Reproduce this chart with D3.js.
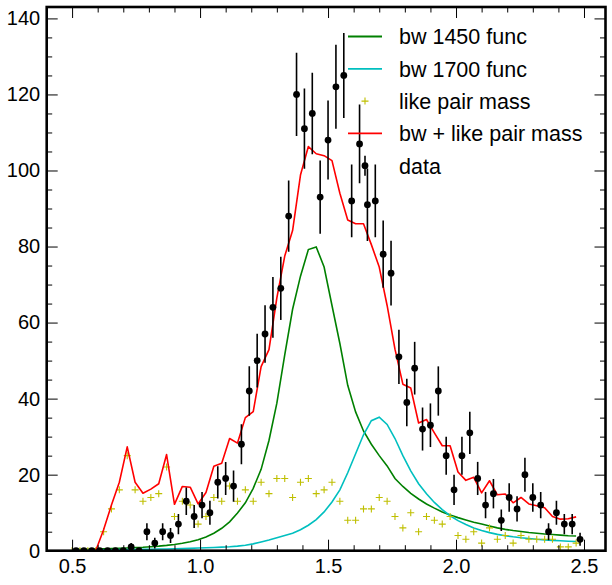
<!DOCTYPE html>
<html>
<head>
<meta charset="utf-8">
<script src="https://cdn.jsdelivr.net/npm/d3@7"></script>
<style>
  body { margin: 0; background: #fff; }
  svg text { font-family: "Liberation Sans", Arial, Helvetica, sans-serif; }
</style>
</head>
<body>
<div class="MassPlot"></div>
<script>
// bin edges of the mass histogram (65 bins from 0.5 to 2.5)
const massEdges = [0.5000, 0.5308, 0.5615, 0.5923, 0.6231, 0.6538, 0.6846, 0.7154, 0.7462, 0.7769,
  0.8077, 0.8385, 0.8692, 0.9000, 0.9308, 0.9615, 0.9923, 1.0231, 1.0538, 1.0846,
  1.1154, 1.1462, 1.1769, 1.2077, 1.2385, 1.2692, 1.3000, 1.3308, 1.3615, 1.3923,
  1.4231, 1.4538, 1.4846, 1.5154, 1.5462, 1.5769, 1.6077, 1.6385, 1.6692, 1.7000,
  1.7308, 1.7615, 1.7923, 1.8231, 1.8538, 1.8846, 1.9154, 1.9462, 1.9769, 2.0077,
  2.0385, 2.0692, 2.1000, 2.1308, 2.1615, 2.1923, 2.2231, 2.2538, 2.2846, 2.3154,
  2.3462, 2.3769, 2.4077, 2.4385, 2.4692, 2.5000];

// data counts per bin and their errors
const dataCounts = [0, 0, 0, 0, 0, 0, 0, 1, 0, 5, 2, 5, 4, 7, 13, 9, 12, 10, 18, 19,
  17, 28, 42, 50, 57, 64, 69, 88, 120, 111, 115, 93, 108, 122, 125, 92, 107, 91, 92, 78,
  73, 51, 39, 48, 32, 33, 42, 25, 16, 25, 31, 19, 12, 15, 8, 14, 11, 20, 14, 12,
  5, 10, 7, 7, 3];
const dataErrors = [0, 0, 0, 0, 0, 0, 0, 1, 0, 2.24, 1.41, 2.24, 2, 2.65, 3.61, 3, 3.46, 3.16, 4.24, 4.36,
  4.12, 5.29, 6.48, 7.07, 7.55, 8, 8.31, 9.38, 10.95, 10.54, 10.72, 9.64, 10.39, 11.05, 11.18, 9.59, 10.34, 9.54, 9.59, 8.83,
  8.54, 7.14, 6.24, 6.93, 5.66, 5.74, 6.48, 5, 4, 5, 5.57, 4.36, 3.46, 3.87, 2.83, 3.74, 3.32, 4.47, 3.74, 3.46,
  2.24, 3.16, 2.65, 2.65, 1.73];

// like pair mass (at bin lower edges)
const likePair = [0, 0, 0, 0, 5, 11, 16, 25, 16, 13, 14, 15, 22, 9, 13, 12, 7, 9, 14, 13,
  17, 13, 16, 13, 18, 15, 19, 19, 14, 18, 19, 15, 16, 18, 13, 8, 8, 11, 11, 14,
  13, 9, 6, 10, 5, 9, 8, 7, 9, 4, 3, 5, 2, 6, 3, 4, 2, 4, 3, 3,
  3, 3, 1, 1, 2];

// bw 1450 function
const bw1450 = [0.3, 0.35, 0.4, 0.45, 0.5, 0.55, 0.62, 0.7, 0.8, 0.9,
  1.05, 1.2, 1.4, 1.65, 1.95, 2.35, 2.9, 3.6, 4.6, 5.9,
  7.6, 9.9, 12.6, 16.4, 21.4, 29, 38.8, 51.5, 63.5, 72.2,
  79.2, 79.9, 74.6, 64.5, 54.5, 43.5, 36.5, 31.5, 28, 25,
  22.3, 19, 16.9, 15.1, 13.6, 12.3, 11.2, 10.2, 9.4, 8.7,
  8.1, 7.5, 7.0, 6.5, 6.0, 5.6, 5.3, 5.05, 4.8, 4.6,
  4.4, 4.25, 4.1, 3.95, 3.85];

// bw 1700 function
const bw1700 = [0.2, 0.21, 0.22, 0.23, 0.24, 0.25, 0.27, 0.29, 0.31, 0.34,
  0.4, 0.43, 0.46, 0.5, 0.55, 0.62, 0.7, 0.77, 0.85, 0.95,
  1.05, 1.2, 1.45, 1.8, 2.3, 2.8, 3.4, 4.0, 4.6, 5.5,
  6.7, 8.2, 10.2, 12.8, 16.0, 20.5, 25.5, 30.5, 34.2, 35.1,
  33.2, 29.5, 25.0, 21.0, 17.6, 15.0, 12.7, 10.8, 9.2, 7.9,
  6.9, 6.0, 5.3, 4.75, 4.3, 3.95, 3.65, 3.4, 3.2, 3.0,
  2.85, 2.72, 2.6, 2.5, 2.42];

// bw + like pair mass
const bwPlusLike = [0, 0, 0, 0, 5.5, 12, 18, 27.3, 18, 15.1, 16.2, 17.6, 25.3, 12.2, 16.9, 16.7, 12.3, 15.3, 22.2, 23,
  29.5, 28.3, 35, 36.6, 48.4, 52.9, 66.5, 77.5, 84.2, 98.8, 106.3, 104.4, 103.9, 102.6, 94, 87, 86, 86, 80.5, 74.6,
  64.5, 53, 43.8, 42.8, 33.6, 34.5, 31, 27.6, 27.6, 20.7, 18.5, 19.3, 15.2, 18.4, 14.7, 14.9, 12.6, 14, 12.3, 11.8,
  11.3, 9, 8.3, 8.4, 8.9];

const xMajorTicks = [0.5, 1.0, 1.5, 2.0, 2.5];
const yMajorTicks = [0, 20, 40, 60, 80, 100, 120, 140];

const legendLabels = ["bw 1450 func", "bw 1700 func", "like pair mass", "bw + like pair mass", "data"];

function drawChart() {
  let margin = { top: 7, right: 6.5, bottom: 34.3, left: 46.7 },
    width = 612 - margin.left - margin.right,
    height = 585 - margin.top - margin.bottom;

  let svg = d3
    .select(".MassPlot")
    .append("svg")
    .attr("width", 612)
    .attr("height", 585)
    .append("g")
    .attr("transform", "translate(" + margin.left + "," + margin.top + ")");

  let x = d3.scaleLinear().domain([0.4008, 2.584]).range([0, width]);
  let y = d3.scaleLinear().domain([0, 143]).range([height, 0]);

  svg.append("clipPath").attr("id", "plotClip")
    .append("rect").attr("width", width).attr("height", height);

  let lower = massEdges.slice(0, -1);
  let centers = lower.map((e, i) => (e + massEdges[i + 1]) / 2);

  let plot = svg.append("g").attr("clip-path", "url(#plotClip)");

  let line = d3.line().x((d) => x(d[0])).y((d) => y(d[1]));

  // bw curves
  plot.append("path")
    .datum(lower.map((e, i) => [e, bw1450[i]]))
    .attr("fill", "none").attr("stroke", "green").attr("stroke-width", 1.6)
    .attr("d", line);
  plot.append("path")
    .datum(lower.map((e, i) => [e, bw1700[i]]))
    .attr("fill", "none").attr("stroke", "#00bfbf").attr("stroke-width", 1.6)
    .attr("d", line);

  // like pair mass markers
  let plus = "M-3.5,0H3.5M0,-3.5V3.5";
  plot.selectAll(".like")
    .data(lower.map((e, i) => [e, likePair[i]]))
    .enter().append("path")
    .attr("class", "like")
    .attr("transform", (d) => "translate(" + x(d[0]) + "," + y(d[1]) + ")")
    .attr("d", plus)
    .attr("stroke", "#bfbf00").attr("stroke-width", 1.1).attr("fill", "none");

  // sum line
  plot.append("path")
    .datum(lower.map((e, i) => [e, bwPlusLike[i]]))
    .attr("fill", "none").attr("stroke", "red").attr("stroke-width", 1.6)
    .attr("stroke-linejoin", "round")
    .attr("d", line);

  // data with error bars
  let pts = centers.map((c, i) => ({ x: c, v: dataCounts[i], e: dataErrors[i] }));
  plot.selectAll(".err")
    .data(pts.filter((d) => d.e > 0))
    .enter().append("line")
    .attr("x1", (d) => x(d.x)).attr("x2", (d) => x(d.x))
    .attr("y1", (d) => y(d.v - d.e)).attr("y2", (d) => y(d.v + d.e))
    .attr("stroke", "black").attr("stroke-width", 1.6);
  plot.selectAll(".dot")
    .data(pts)
    .enter().append("circle")
    .attr("cx", (d) => x(d.x)).attr("cy", (d) => y(d.v))
    .attr("r", 3.4).attr("fill", "black");

  // axes, ticks pointing inwards on all four sides
  let xMinor = d3.range(4, 26).map((d) => d / 10).filter((d) => d * 2 % 1 !== 0);
  let yMinor = d3.range(5, 143, 5).filter((d) => d % 20 !== 0);

  let fmt = d3.format(".1f");
  svg.append("g").attr("transform", "translate(0," + height + ")")
    .call(d3.axisBottom(x).tickValues(xMajorTicks).tickSize(-11).tickPadding(8).tickFormat(fmt));
  svg.append("g").attr("transform", "translate(0," + height + ")")
    .call(d3.axisBottom(x).tickValues(xMinor).tickSize(-5.5).tickFormat(""));
  svg.append("g")
    .call(d3.axisTop(x).tickValues(xMajorTicks).tickSize(-11).tickFormat(""));
  svg.append("g")
    .call(d3.axisTop(x).tickValues(xMinor).tickSize(-5.5).tickFormat(""));
  svg.append("g")
    .call(d3.axisLeft(y).tickValues(yMajorTicks).tickSize(-11).tickPadding(6.5));
  svg.append("g")
    .call(d3.axisLeft(y).tickValues(yMinor).tickSize(-5.5).tickFormat(""));
  svg.append("g").attr("transform", "translate(" + width + ",0)")
    .call(d3.axisRight(y).tickValues(yMajorTicks).tickSize(-11).tickFormat(""));
  svg.append("g").attr("transform", "translate(" + width + ",0)")
    .call(d3.axisRight(y).tickValues(yMinor).tickSize(-5.5).tickFormat(""));

  svg.selectAll(".domain").remove();
  svg.selectAll(".tick line").attr("stroke", "black").attr("stroke-width", 1);
  svg.selectAll(".tick text").attr("fill", "black").style("font-size", "20px");

  svg.append("rect")
    .attr("width", width).attr("height", height)
    .attr("fill", "none").attr("stroke", "black").attr("stroke-width", 2.6);

  // legend
  let legend = svg.append("g").attr("transform", "translate(" + (348 - margin.left) + "," + (36.5 - margin.top) + ")");
  let rowH = 32.3;
  let colors = ["green", "#00bfbf", null, "red", null];
  legendLabels.forEach((label, i) => {
    let row = legend.append("g").attr("transform", "translate(0," + i * rowH + ")");
    if (colors[i]) {
      row.append("line").attr("x1", 0).attr("x2", 34).attr("y1", 0).attr("y2", 0)
        .attr("stroke", colors[i]).attr("stroke-width", 1.8);
    } else if (i === 2) {
      row.append("path").attr("transform", "translate(17,0)").attr("d", plus)
        .attr("stroke", "#bfbf00").attr("stroke-width", 1.1).attr("fill", "none");
    } else {
      row.append("line").attr("x1", 17).attr("x2", 17).attr("y1", -10).attr("y2", 10)
        .attr("stroke", "black").attr("stroke-width", 1.6);
      row.append("circle").attr("cx", 17).attr("cy", 0).attr("r", 3.4).attr("fill", "black");
    }
    row.append("text").attr("x", 51).attr("y", 7.8)
      .style("font-size", "21.5px").attr("fill", "black").text(label);
  });
}

drawChart();
</script>
</body>
</html>
